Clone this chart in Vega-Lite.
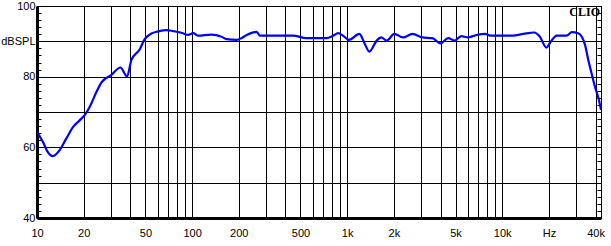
{
  "$schema": "https://vega.github.io/schema/vega-lite/v6.json",
  "width": 564,
  "height": 212,
  "autosize": "none",
  "padding": {"left": 37, "top": 6, "right": 10, "bottom": 28},
  "background": "white",
  "config": {
    "view": {"stroke": "black", "strokeWidth": 1},
    "font": "Liberation Sans"
  },
  "data": {
    "values": [
      {"f": 10, "db": 64.4},
      {"f": 10.9, "db": 61.6},
      {"f": 11.8, "db": 58.5},
      {"f": 12.6, "db": 57.5},
      {"f": 14.0, "db": 59.2},
      {"f": 15.5, "db": 62.6},
      {"f": 17.1, "db": 65.8},
      {"f": 18.9, "db": 67.7},
      {"f": 20.3, "db": 69.1},
      {"f": 21.9, "db": 71.5},
      {"f": 24.2, "db": 75.7},
      {"f": 26.0, "db": 78.3},
      {"f": 30.2, "db": 80.5},
      {"f": 34.5, "db": 82.6},
      {"f": 38.1, "db": 80.1},
      {"f": 40.6, "db": 84.7},
      {"f": 45.9, "db": 87.7},
      {"f": 49.5, "db": 90.6},
      {"f": 54.7, "db": 92.2},
      {"f": 60.4, "db": 92.8},
      {"f": 68.4, "db": 93.2},
      {"f": 75.5, "db": 92.9},
      {"f": 87.3, "db": 92.3},
      {"f": 94.3, "db": 91.8},
      {"f": 101.8, "db": 92.3},
      {"f": 109, "db": 91.6},
      {"f": 133, "db": 91.9},
      {"f": 155, "db": 91.3},
      {"f": 167, "db": 90.6},
      {"f": 194, "db": 90.4},
      {"f": 208, "db": 90.9},
      {"f": 225, "db": 91.8},
      {"f": 261, "db": 92.7},
      {"f": 274, "db": 91.6},
      {"f": 349, "db": 91.6},
      {"f": 448, "db": 91.6},
      {"f": 546, "db": 90.9},
      {"f": 736, "db": 90.9},
      {"f": 813, "db": 91.6},
      {"f": 874, "db": 92.3},
      {"f": 940, "db": 91.6},
      {"f": 1027, "db": 90.4},
      {"f": 1200, "db": 92.1},
      {"f": 1295, "db": 89.4},
      {"f": 1390, "db": 87.1},
      {"f": 1550, "db": 90.2},
      {"f": 1660, "db": 91.1},
      {"f": 1800, "db": 90.2},
      {"f": 2013, "db": 92.1},
      {"f": 2290, "db": 91.1},
      {"f": 2640, "db": 92.1},
      {"f": 3060, "db": 91.1},
      {"f": 3540, "db": 90.9},
      {"f": 4000, "db": 89.4},
      {"f": 4480, "db": 90.9},
      {"f": 4940, "db": 90.2},
      {"f": 5440, "db": 91.5},
      {"f": 5980, "db": 91.1},
      {"f": 6830, "db": 91.8},
      {"f": 7770, "db": 92.1},
      {"f": 8360, "db": 91.6},
      {"f": 11700, "db": 91.6},
      {"f": 13700, "db": 92.1},
      {"f": 16100, "db": 92.5},
      {"f": 17500, "db": 91.3},
      {"f": 19300, "db": 88.2},
      {"f": 20200, "db": 89.4},
      {"f": 22500, "db": 91.6},
      {"f": 26000, "db": 91.6},
      {"f": 28100, "db": 92.6},
      {"f": 30900, "db": 92.3},
      {"f": 32600, "db": 91.3},
      {"f": 34200, "db": 89.0},
      {"f": 35900, "db": 84.7},
      {"f": 37700, "db": 80.9},
      {"f": 39600, "db": 77.2},
      {"f": 42300, "db": 72.9},
      {"f": 43350, "db": 70.6}
    ]
  },
  "resolve": {"axis": {"x": "independent", "y": "independent"}},
  "layer": [
    {
      "mark": {"type": "line", "color": "#0000ff", "strokeWidth": 2.2, "interpolate": "monotone", "clip": true},
      "encoding": {
        "x": {
          "field": "f",
          "type": "quantitative",
          "scale": {"type": "log", "domain": [10, 43350], "nice": false},
          "axis": {
            "title": null,
            "orient": "bottom",
            "values": [10, 20, 30, 40, 50, 60, 70, 80, 90, 100, 200, 300, 400, 500, 600, 700, 800, 900, 1000, 2000, 3000, 4000, 5000, 6000, 7000, 8000, 9000, 10000, 20000, 30000, 40000],
            "grid": true,
            "gridColor": "black",
            "gridOpacity": 1,
            "gridWidth": 1,
            "ticks": false,
            "domainColor": "black",
            "domainWidth": 3,
            "labelExpr": "datum.value==20000 ? 'Hz' : datum.value==10 ? '10' : datum.value==20 ? '20' : datum.value==50 ? '50' : datum.value==100 ? '100' : datum.value==200 ? '200' : datum.value==500 ? '500' : datum.value==1000 ? '1k' : datum.value==2000 ? '2k' : datum.value==5000 ? '5k' : datum.value==10000 ? '10k' : datum.value==40000 ? '40k' : ''",
            "labelOverlap": false,
            "labelFlush": false,
            "labelFontSize": 11,
            "labelColor": "black",
            "labelPadding": 9
          }
        },
        "y": {
          "field": "db",
          "type": "quantitative",
          "scale": {"domain": [40, 100], "nice": false, "zero": false},
          "axis": {
            "title": null,
            "orient": "left",
            "values": [40, 42, 44, 46, 48, 50, 52, 54, 56, 58, 60, 62, 64, 66, 68, 70, 72, 74, 76, 78, 80, 82, 84, 86, 88, 90, 92, 94, 96, 98, 100],
            "grid": true,
            "gridColor": "black",
            "gridWidth": 1,
            "gridOpacity": {"condition": {"test": "datum.value % 10 === 0", "value": 1}, "value": 0},
            "tickSize": -4,
            "tickColor": "black",
            "tickWidth": 1,
            "domainColor": "black",
            "domainWidth": 3,
            "labelExpr": "datum.value == 90 ? 'dBSPL' : (datum.value % 20 === 0 ? '' + datum.value : '')",
            "labelOverlap": false,
            "labelFontSize": 11,
            "labelColor": "black",
            "labelPadding": 6
          }
        }
      }
    },
    {
      "mark": {"type": "line", "opacity": 0},
      "encoding": {
        "x": {"field": "f", "type": "quantitative", "axis": null},
        "y": {
          "field": "db",
          "type": "quantitative",
          "axis": {
            "title": null,
            "orient": "right",
            "values": [40, 42, 44, 46, 48, 50, 52, 54, 56, 58, 60, 62, 64, 66, 68, 70, 72, 74, 76, 78, 80, 82, 84, 86, 88, 90, 92, 94, 96, 98, 100],
            "grid": false,
            "labels": false,
            "tickSize": -4,
            "tickColor": "black",
            "tickWidth": 1,
            "domainColor": "black",
            "domainWidth": 1
          }
        }
      }
    },
    {
      "data": {"values": [{"f": 43350, "db": 100, "t": "CLIO"}]},
      "mark": {"type": "text", "align": "right", "baseline": "top", "dx": -1, "dy": 1, "font": "Liberation Serif", "fontWeight": "bold", "fontSize": 12, "color": "black"},
      "encoding": {
        "x": {"field": "f", "type": "quantitative", "axis": null},
        "y": {"field": "db", "type": "quantitative", "axis": null},
        "text": {"field": "t"}
      }
    }
  ]
}
